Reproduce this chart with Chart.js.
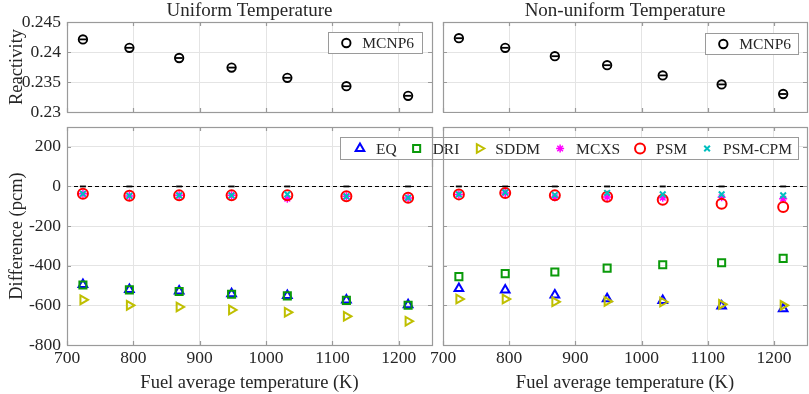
<!DOCTYPE html>
<html>
<head>
<meta charset="UTF-8">
<script src="https://cdn.jsdelivr.net/npm/chart.js"></script>
<style>
  html, body { margin: 0; padding: 0; background: #fff; }
  body { width: 809px; height: 394px; position: relative; overflow: hidden; }
  canvas { position: absolute; }
</style>
</head>
<body>
<canvas id="cBL" width="440" height="281" style="left:0;top:113px"></canvas>
<canvas id="cTL" width="440" height="125" style="left:0;top:0"></canvas>
<canvas id="cTR" width="373" height="113" style="left:436px;top:0"></canvas>
<canvas id="cBR" width="479" height="281" style="left:330px;top:113px"></canvas>

<script>
// fuel average temperature (K), same points for both cases
const temps = [724, 794, 869, 948, 1032, 1121, 1214];
const xTicks = [700, 800, 900, 1000, 1100, 1200];
const reactTicks = [0.23, 0.235, 0.24, 0.245];
const diffTicks = [-800, -600, -400, -200, 0, 200];

// MCNP6 reactivity
const reactUniform    = [0.2421, 0.2407, 0.2390, 0.2374, 0.2357, 0.2343, 0.2327];
const reactNonUniform = [0.2423, 0.2407, 0.2393, 0.2378, 0.2361, 0.2346, 0.2330];

// MCNP6 reference (zero difference)
const refZero = [0, 0, 0, 0, 0, 0, 0];

const methods = ['EQ', 'DRI', 'SDDM', 'MCXS', 'PSM', 'PSM-CPM'];

// difference (pcm), uniform temperature
const eqUniform     = [-495, -520, -528, -542, -550, -573, -597];
const driUniform    = [-497, -522, -530, -544, -552, -575, -599];
const sddmUniform   = [-572, -600, -608, -623, -635, -655, -680];
const mcxsUniform   = [-37, -48, -45, -45, -62, -50, -58];
const psmUniform    = [-37, -47, -45, -45, -45, -50, -57];
const psmCpmUniform = [-37, -47, -45, -45, -40, -50, -57];

// difference (pcm), non-uniform temperature
const eqNonUniform     = [-515, -523, -548, -567, -575, -603, -617];
const driNonUniform    = [-455, -440, -432, -412, -395, -385, -363];
const sddmNonUniform   = [-568, -568, -582, -580, -583, -595, -600];
const mcxsNonUniform   = [-40, -33, -55, -53, -57, -55, -62];
const psmNonUniform    = [-40, -33, -45, -52, -67, -87, -104];
const psmCpmNonUniform = [-40, -30, -43, -33, -40, -40, -45];

const textColor = '#262626';
const gridColor = '#e4e4e4';
const boxColor = '#9a9a9a';
const fontFamily = "'Liberation Serif', 'Times New Roman', serif";

const styles = {
  'MCNP6':   { color: '#000000', pointStyle: 'circle',   radius: 4.2, width: 1.9 },
  'EQ':      { color: '#0000ff', pointStyle: 'triangle', radius: 5,   width: 2 },
  'DRI':     { color: '#0a9a0a', pointStyle: 'rect',     radius: 5,   width: 2 },
  'SDDM':    { color: '#bfbf00', pointStyle: 'triangle', radius: 5,   width: 2, rotation: 90 },
  'MCXS':    { color: '#ff00ff', pointStyle: 'star',     radius: 4,   width: 1.5 },
  'PSM':     { color: '#ff0000', pointStyle: 'circle',   radius: 5,   width: 2 },
  'PSM-CPM': { color: '#00bfbf', pointStyle: 'crossRot', radius: 4,   width: 2 }
};

Chart.defaults.font.family = fontFamily;
Chart.defaults.color = textColor;
Chart.defaults.animation = false;

function pts(ys) {
  return temps.map((t, i) => ({ x: t, y: ys[i] }));
}

function markerDataset(label, ys, order) {
  const st = styles[label];
  return {
    label: label,
    data: pts(ys),
    showLine: false,
    pointStyle: st.pointStyle,
    pointRotation: st.rotation || 0,
    pointRadius: st.radius,
    pointBorderWidth: st.width,
    pointBorderColor: st.color,
    pointBackgroundColor: 'rgba(0,0,0,0)',
    order: order
  };
}

function dashDataset(ys, radius, order) {
  return {
    label: 'ref',
    data: pts(ys),
    showLine: false,
    pointStyle: 'line',
    pointRadius: radius,
    pointBorderWidth: 1.8,
    pointBorderColor: '#000',
    order: order
  };
}

function drawMarker(ctx, st, x, y) {
  ctx.save();
  ctx.strokeStyle = st.color;
  ctx.fillStyle = 'rgba(0,0,0,0)';
  ctx.lineWidth = st.width;
  Chart.helpers.drawPoint(ctx, {
    pointStyle: st.pointStyle, rotation: st.rotation || 0,
    radius: st.radius, borderWidth: st.width
  }, x, y);
  ctx.restore();
}

// legend box drawn inside the plot, anchored at its top-right corner
function drawLegend(ctx, labels, right, top, height, padL, padR) {
  ctx.save();
  ctx.font = '15.5px ' + fontFamily;
  const widths = labels.map(l => ctx.measureText(l).width);
  let total = padL + padR + 20 * (labels.length - 1);
  widths.forEach(w => { total += 16 + w; });
  const left = right - total;
  ctx.fillStyle = '#fff';
  ctx.fillRect(left, top, total, height);
  ctx.strokeStyle = boxColor;
  ctx.lineWidth = 1;
  ctx.strokeRect(Math.round(left) + 0.5, top + 0.5, Math.round(total), height);
  const cy = top + height / 2 + 0.5;
  let x = left + padL;
  labels.forEach((l, i) => {
    drawMarker(ctx, styles[l], x, cy);
    ctx.fillStyle = textColor;
    ctx.textBaseline = 'middle';
    ctx.textAlign = 'left';
    ctx.fillText(l, x + 16, cy + 1);
    x += 16 + widths[i] + 20;
  });
  ctx.restore();
}

function drawBox(chart) {
  const ctx = chart.ctx;
  const a = chart.chartArea;
  const sx = chart.scales.x, sy = chart.scales.y;
  ctx.save();
  ctx.strokeStyle = boxColor;
  ctx.lineWidth = 1.2;
  // small inward ticks, matlab style
  sx.ticks.forEach(t => {
    const px = Math.round(sx.getPixelForValue(t.value)) + 0.5;
    ctx.beginPath();
    ctx.moveTo(px, a.bottom); ctx.lineTo(px, a.bottom - 4);
    ctx.moveTo(px, a.top); ctx.lineTo(px, a.top + 4);
    ctx.stroke();
  });
  sy.ticks.forEach(t => {
    const py = Math.round(sy.getPixelForValue(t.value)) + 0.5;
    ctx.beginPath();
    ctx.moveTo(a.left, py); ctx.lineTo(a.left + 4, py);
    ctx.moveTo(a.right, py); ctx.lineTo(a.right - 4, py);
    ctx.stroke();
  });
  ctx.strokeRect(Math.round(a.left) + 0.5, Math.round(a.top) + 0.5,
                 Math.round(a.right - a.left), Math.round(a.bottom - a.top));
  ctx.restore();
}

function drawZeroLine(chart) {
  const ctx = chart.ctx, a = chart.chartArea;
  const y = Math.round(chart.scales.y.getPixelForValue(0)) + 0.5;
  ctx.save();
  ctx.strokeStyle = '#000';
  ctx.lineWidth = 1.1;
  ctx.setLineDash([4, 3]);
  ctx.beginPath();
  ctx.moveTo(a.left, y);
  ctx.lineTo(a.right, y);
  ctx.stroke();
  ctx.restore();
}

function xScale(opts) {
  return {
    type: 'linear',
    position: opts.position,
    min: 700, max: 1250,
    afterBuildTicks: s => { s.ticks = xTicks.map(v => ({ value: v })); },
    grid: { color: gridColor, drawTicks: false, lineWidth: 1 },
    border: { display: false },
    ticks: { display: opts.labels, padding: 3, autoSkip: false, maxRotation: 0,
             font: { size: 17.5 }, color: textColor, callback: v => String(v) },
    title: { display: !!opts.title, text: opts.title, color: textColor,
             font: { size: opts.titleSize || 18.5 }, padding: { top: 0, bottom: 0 } },
    afterFit: s => {
      s.height = opts.height;
      s.paddingLeft = 0; s.paddingRight = 0;
    }
  };
}

function yScale(opts) {
  return {
    type: 'linear',
    min: opts.min, max: opts.max,
    afterBuildTicks: s => { s.ticks = opts.ticks.map(v => ({ value: v })); },
    grid: { color: gridColor, drawTicks: false, lineWidth: 1 },
    border: { display: false },
    ticks: { display: opts.labels, padding: 6, font: { size: 17.5 }, color: textColor,
             callback: v => String(v) },
    title: { display: !!opts.title, text: opts.title, color: textColor,
             font: { size: 18.5 }, padding: { top: 6, bottom: 0 } },
    afterFit: s => {
      s.width = opts.width;
      s.paddingTop = 0; s.paddingBottom = 0;
    }
  };
}

function makeChart(id, datasets, scales, padding, extra) {
  return new Chart(document.getElementById(id), {
    type: 'scatter',
    data: { datasets: datasets },
    options: {
      responsive: false,
      devicePixelRatio: 1,
      layout: { padding: padding, autoPadding: false },
      plugins: { legend: { display: false }, tooltip: { enabled: false }, title: { display: false } },
      scales: scales
    },
    plugins: [{
      id: 'frame',
      beforeDatasetsDraw(chart) { if (extra.zero) drawZeroLine(chart); },
      afterDraw(chart) {
        if (extra.legend) extra.legend(chart);
        drawBox(chart);
        if (extra.after) extra.after(chart);
      }
    }]
  });
}

function reactDatasets(ys) {
  return [markerDataset('MCNP6', ys, 2), dashDataset(ys, 3.4, 1)];
}

function diffDatasets(eq, dri, sddm, mcxs, psm, cpm) {
  const series = [eq, dri, sddm, mcxs, psm, cpm];
  const ds = [dashDataset(refZero, 3, 10)];
  methods.forEach((m, i) => ds.push(markerDataset(m, series[i], methods.length - i)));
  return ds;
}

const chartTL = makeChart('cTL', reactDatasets(reactUniform), {
  x: xScale({ position: 'top', labels: false, title: 'Uniform Temperature', titleSize: 19, height: 22 }),
  y: yScale({ min: 0.23, max: 0.245, ticks: reactTicks, labels: true, title: 'Reactivity', width: 67 })
}, { top: 0, right: 8, bottom: 13, left: 0 }, {
  legend: c => drawLegend(c.ctx, ['MCNP6'], c.chartArea.right - 10, c.chartArea.top + 10, 21, 18, 8)
});

const chartTR = makeChart('cTR', reactDatasets(reactNonUniform), {
  x: xScale({ position: 'top', labels: false, title: 'Non-uniform Temperature', titleSize: 19, height: 22 }),
  y: yScale({ min: 0.23, max: 0.245, ticks: reactTicks, labels: false, width: 7 })
}, { top: 0, right: 2, bottom: 1, left: 0 }, {
  legend: c => drawLegend(c.ctx, ['MCNP6'], c.chartArea.right - 9, c.chartArea.top + 11, 21, 18, 7)
});

const chartBL = makeChart('cBL',
  diffDatasets(eqUniform, driUniform, sddmUniform, mcxsUniform, psmUniform, psmCpmUniform), {
  x: xScale({ position: 'bottom', labels: true, title: 'Fuel average temperature (K)', height: 49 }),
  y: yScale({ min: -800, max: 300, ticks: diffTicks, labels: true, title: 'Difference (pcm)', width: 67 })
}, { top: 14, right: 8, bottom: 0, left: 0 }, { zero: true });

const chartBR = makeChart('cBR',
  diffDatasets(eqNonUniform, driNonUniform, sddmNonUniform, mcxsNonUniform, psmNonUniform, psmCpmNonUniform), {
  x: xScale({ position: 'bottom', labels: true, title: 'Fuel average temperature (K)', height: 49 }),
  y: yScale({ min: -800, max: 300, ticks: diffTicks, labels: false, width: 113 })
}, { top: 14, right: 2, bottom: 0, left: 0 }, {
  zero: true,
  legend: c => drawLegend(c.ctx, methods, c.chartArea.right - 9, c.chartArea.top + 10, 22, 20, 6),
  after: c => {
    // the left panel's right edge shows through the shared legend
    const off = document.getElementById('cBL').offsetLeft - document.getElementById('cBR').offsetLeft;
    const x = Math.round(chartBL.chartArea.right + off) + 0.5;
    const ctx = c.ctx;
    ctx.save();
    ctx.strokeStyle = boxColor;
    ctx.lineWidth = 1.2;
    ctx.beginPath();
    ctx.moveTo(x, c.chartArea.top);
    ctx.lineTo(x, c.chartArea.top + 40);
    ctx.stroke();
    ctx.restore();
  }
});
</script>
</body>
</html>
